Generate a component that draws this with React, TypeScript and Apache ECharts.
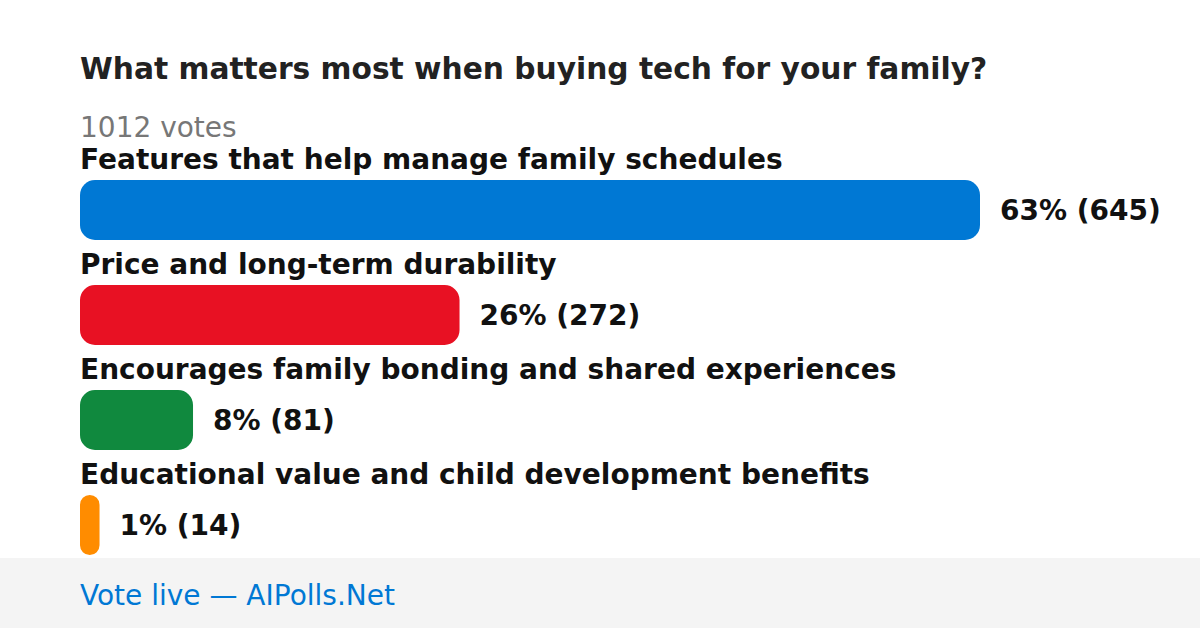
import React, { useEffect, useRef } from "react";
import * as echarts from "echarts";

const question = "What matters most when buying tech for your family?";
const totalVotesLabel = "1012 votes";
const categories = [
  "Features that help manage family schedules",
  "Price and long-term durability",
  "Encourages family bonding and shared experiences",
  "Educational value and child development benefits",
];
const votes = [645, 272, 81, 14];
const percents = [63, 26, 8, 1];
const colors = ["#0078d4", "#e81123", "#10893e", "#ff8c00"];
const footerText = "Vote live — AIPolls.Net";

const FONT = "DejaVu Sans";

export default function App() {
  const ref = useRef<HTMLDivElement>(null);
  useEffect(() => {
    if (!ref.current) return;
    const chart = echarts.init(ref.current, null, { renderer: "svg" });
    const maxVal = Math.max(...votes);
    chart.setOption({
      animation: false,
      backgroundColor: "#ffffff",
      title: [
        {
          text: question,
          left: 80,
          top: 50,
          padding: 0,
          textStyle: { fontFamily: FONT, fontSize: 29.7, fontWeight: "bold", color: "#222222", lineHeight: 36 },
        },
        {
          text: totalVotesLabel,
          left: 80,
          top: 110,
          padding: 0,
          textStyle: { fontFamily: FONT, fontSize: 28, fontWeight: "normal", color: "#777777", lineHeight: 34 },
        },
      ],
      grid: { left: 80, right: 220, top: 157.5, bottom: 50.5, containLabel: false },
      xAxis: { type: "value", min: 0, max: maxVal, show: false },
      yAxis: {
        type: "category",
        data: categories,
        inverse: true,
        show: false,
      },
      series: [
        {
          type: "bar",
          barWidth: 60,
          data: votes.map((v, i) => ({ value: v, itemStyle: { color: colors[i], borderRadius: 15 } })),
          label: {
            show: true,
            position: "right",
            distance: 20,
            fontFamily: FONT,
            fontSize: 28,
            fontWeight: "bold",
            color: "#111111",
            formatter: (p: any) => `${percents[p.dataIndex]}% (${votes[p.dataIndex]})`,
          },
          z: 2,
        },
        {
          type: "bar",
          barWidth: 60,
          barGap: "-100%",
          silent: true,
          data: votes.map((v) => ({ value: v, itemStyle: { color: "rgba(0,0,0,0)" } })),
          label: {
            show: true,
            position: [0, -21],
            align: "left",
            verticalAlign: "middle",
            fontFamily: FONT,
            fontSize: 28,
            fontWeight: "bold",
            color: "#111111",
            formatter: (p: any) => categories[p.dataIndex],
          },
          z: 1,
        },
      ],
      graphic: [
        {
          type: "rect",
          left: 0,
          top: 558,
          shape: { x: 0, y: 0, width: 1200, height: 70 },
          style: { fill: "#f4f4f4" },
          silent: true,
        },
        {
          type: "text",
          left: 80,
          top: 581,
          style: {
            text: footerText,
            fontFamily: FONT,
            fontSize: 28,
            fill: "#0078d4",
          },
        },
      ],
    });
    return () => chart.dispose();
  }, []);
  return (
    <div
      ref={ref}
      style={{ position: "fixed", left: 0, top: 0, width: 1200, height: 628, background: "#fff" }}
    />
  );
}
